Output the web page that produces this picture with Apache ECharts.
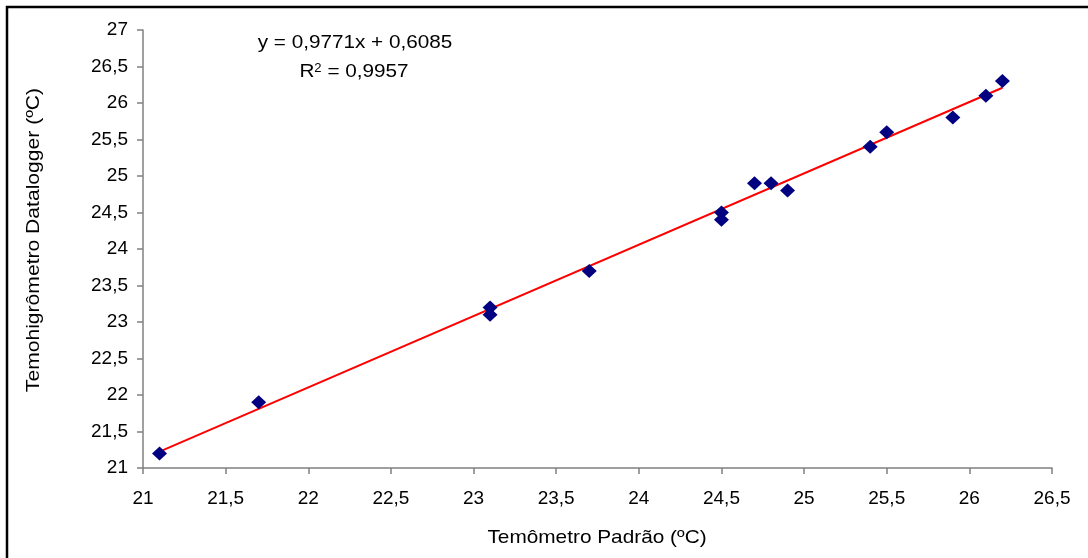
<!DOCTYPE html>
<html>
<head>
<meta charset="utf-8">
<script src="https://cdn.jsdelivr.net/npm/echarts@6/dist/echarts.min.js"></script>
<style>html,body{margin:0;padding:0;background:#fff;}#c{width:1088px;height:558px;}</style>
</head>
<body>
<div id="c"></div>
<script>
var padraoX = [21.1, 21.7, 23.1, 23.1, 23.7, 24.5, 24.5, 24.7, 24.8, 24.9, 25.4, 25.5, 25.9, 26.1, 26.2];
var dataloggerY = [21.2, 21.9, 23.2, 23.1, 23.7, 24.5, 24.4, 24.9, 24.9, 24.8, 25.4, 25.6, 25.8, 26.1, 26.3];
var trendX = [21.1, 26.2];
var trendY = [21.225, 26.209];
var equationText = 'y = 0,9771x + 0,6085';
var r2Value = '0,9957';
var xAxisTitle = 'Temômetro Padrão (ºC)';
var yAxisTitle = 'Temohigrômetro Datalogger (ºC)';

function fmt(v){ return String(Math.round(v*10)/10).replace('.', ','); }

var points = padraoX.map(function(x,i){ return [x, dataloggerY[i]]; });
var trend = trendX.map(function(x,i){ return [x, trendY[i]]; });

var chart = echarts.init(document.getElementById('c'), null, {renderer:'canvas'});
var font = 'Liberation Sans, Arial, sans-serif';
chart.setOption({
  animation: false,
  backgroundColor: '#fff',
  textStyle: {fontFamily: font},
  grid: {left: 143, right: 36, top: 30, bottom: 90},
  xAxis: {
    type: 'value', min: 21, max: 26.5, interval: 0.5,
    axisLine: {show: true, onZero: false, lineStyle: {color: '#808080', width: 1.5}},
    axisTick: {show: true, length: 6, lineStyle: {color: '#808080', width: 1.5}},
    axisLabel: {color: '#000', fontSize: 19, margin: 21, fontFamily: font, formatter: fmt},
    splitLine: {show: false}
  },
  yAxis: {
    type: 'value', min: 21, max: 27, interval: 0.5,
    axisLine: {show: true, onZero: false, lineStyle: {color: '#808080', width: 1.5}},
    axisTick: {show: true, length: 6, lineStyle: {color: '#808080', width: 1.5}},
    axisLabel: {color: '#000', fontSize: 19, margin: 15, fontFamily: font, formatter: fmt},
    splitLine: {show: false}
  },
  graphic: [
    {type: 'rect', shape: {x: 7, y: 7, width: 1100, height: 600},
     style: {fill: 'none', stroke: '#000', lineWidth: 2.5}, z: 100},
    {type: 'text', x: 355, y: 43, scaleX: 1.09,
     style: {text: equationText, font: '19px ' + font, fill: '#000', textAlign: 'center', textVerticalAlign: 'middle'}},
    {type: 'text', x: 354, y: 72, scaleX: 1.09,
     style: {text: '{n|R}{s|2}{n| = ' + r2Value + '}', textAlign: 'center', textVerticalAlign: 'middle',
       rich: {n: {fontSize: 19, fontFamily: font, fill: '#000', color: '#000', verticalAlign: 'bottom'},
              s: {fontSize: 12, fontFamily: font, fill: '#000', color: '#000', verticalAlign: 'top', padding: [0,0,7,0]}}}},
    {type: 'text', x: 597, y: 538, scaleX: 1.095,
     style: {text: xAxisTitle, font: '19px ' + font, fill: '#000', textAlign: 'center', textVerticalAlign: 'middle'}},
    {type: 'text', x: 34, y: 240, rotation: Math.PI / 2, scaleX: 1.11,
     style: {text: yAxisTitle, font: '19px ' + font, fill: '#000', textAlign: 'center', textVerticalAlign: 'middle'}}
  ],
  series: [
    {type: 'line', data: trend, symbol: 'none', lineStyle: {color: '#ff0000', width: 2}, z: 2},
    {type: 'scatter', data: points, symbol: 'diamond', symbolSize: [15, 14],
     itemStyle: {color: '#000080', opacity: 1}, z: 3}
  ]
});
</script>
</body>
</html>
